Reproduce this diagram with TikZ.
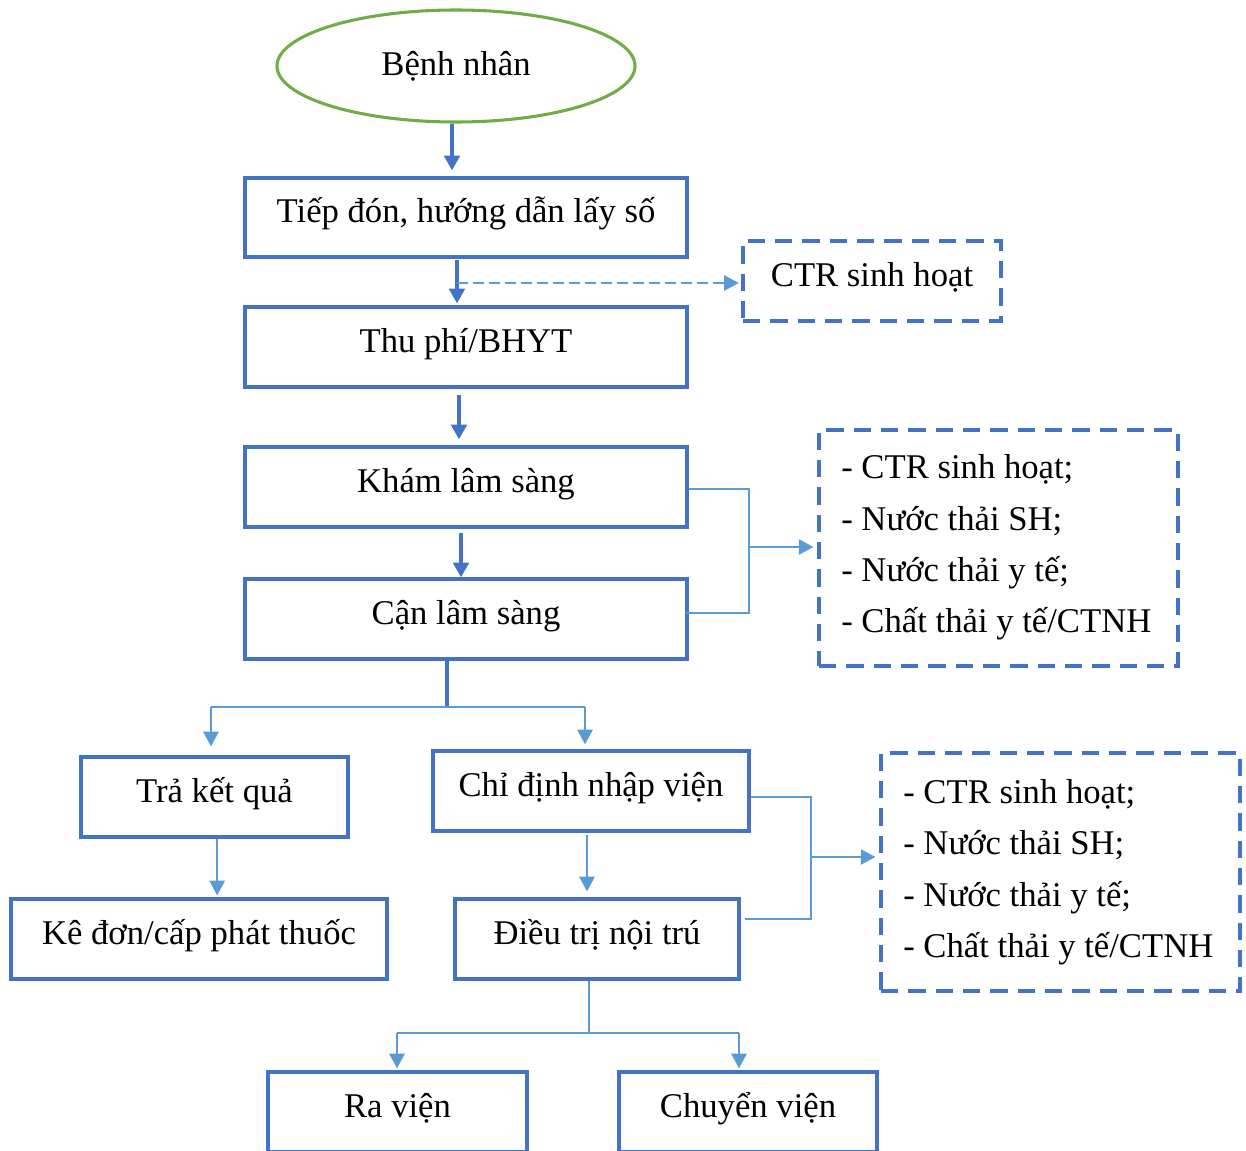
\documentclass[tikz,border=0pt]{standalone}
\usepackage{fontspec}
\setmainfont{Liberation Serif}
\usetikzlibrary{arrows.meta,shapes.geometric}
\definecolor{boxblue}{HTML}{4472C4}
\definecolor{linkblue}{HTML}{5B9BD5}
\definecolor{ovalgreen}{HTML}{70AD47}

\begin{document}
\begin{tikzpicture}[x=0.75pt,y=-0.75pt,
  txt/.style={font=\fontsize{26}{38.6}\selectfont},
  wh/.style 2 args={minimum width=#1*0.75pt, minimum height=#2*0.75pt},
  stepbox/.style={txt, draw=boxblue, line width=2.4pt, rectangle, inner sep=0pt,
    text height=0.86em, text depth=0.08em},
  wasteframe/.style={draw=boxblue, line width=2.3pt, dash pattern=on 13pt off 7.5pt,
    rectangle, inner sep=0pt},
  wastetext/.style={txt, inner sep=0pt, align=left, anchor=west},
  mainarrow/.style={draw=boxblue, line width=3.3pt,
    -{Triangle[width=11.5pt,length=11pt]}},
  mainline/.style={draw=boxblue, line width=3.3pt},
  link/.style={draw=linkblue, line width=1.1pt},
  linkarrow/.style={link, -{Triangle[width=11.5pt,length=11pt]}},
  dashlink/.style={draw=linkblue, line width=1pt, dash pattern=on 8pt off 4pt,
    -{Triangle[width=11.5pt,length=11pt]}}
]
\useasboundingbox (0,0) rectangle (1246,1150);
\clip (0,0) rectangle (1246,1150);

% start oval
\node[ellipse, draw=ovalgreen, line width=2.3pt, wh={358}{112}, inner sep=0pt, txt]
  (patient) at (456,66) {Bệnh nhân};

% main column
\node[stepbox, wh={442}{79}] (reception) at (466,217.5) {Tiếp đón, hướng dẫn lấy số};
\node[stepbox, wh={442}{80}] (fee) at (466,347) {Thu phí/BHYT};
\node[stepbox, wh={442}{80}] (exam) at (466,487) {Khám lâm sàng};
\node[stepbox, wh={442}{80}] (lab) at (466,619) {Cận lâm sàng};

% waste outputs
\node[stepbox, wh={258}{80}, dash pattern=on 13pt off 7.5pt, line width=2.3pt]
  (waste0) at (872,281) {CTR sinh hoạt};
\node[wasteframe, wh={359}{236}] (waste1) at (998.5,548) {};
\node[wastetext] (waste1text) at (841,547.5)
  {- CTR sinh hoạt;\\- Nước thải SH;\\- Nước thải y tế;\\- Chất thải y tế/CTNH};
\node[wasteframe, wh={359}{238}] (waste2) at (1060.5,872) {};
\node[wastetext] (waste2text) at (903,872)
  {- CTR sinh hoạt;\\- Nước thải SH;\\- Nước thải y tế;\\- Chất thải y tế/CTNH};

% branches
\node[stepbox, wh={267}{80}] (result) at (214.5,797) {Trả kết quả};
\node[stepbox, wh={316}{80}] (admit) at (591,791) {Chỉ định nhập viện};
\node[stepbox, wh={376}{80}] (drugs) at (199,939) {Kê đơn/cấp phát thuốc};
\node[stepbox, wh={284}{80}] (inpatient) at (597,939) {Điều trị nội trú};
\node[stepbox, wh={259}{80}] (discharge) at (397.5,1112) {Ra viện};
\node[stepbox, wh={258}{80}] (transfer) at (748,1112) {Chuyển viện};

% junction points
\coordinate (j0) at (457,283);
\coordinate (j1) at (749,489);
\coordinate (j1b) at (749,613);
\coordinate (j1m) at (749,547);
\coordinate (j2) at (447,707);
\coordinate (j3) at (811,797);
\coordinate (j3b) at (811,919);
\coordinate (j3m) at (811,857);
\coordinate (j4) at (589,1033);

% main flow arrows
\draw[mainarrow, shorten >=4.5pt] ([xshift=-3pt]patient.south) -- ([xshift=-3pt]patient.south |- reception.north);
\draw[mainarrow, shorten <=1pt, shorten >=1.5pt] ([xshift=-6.75pt]reception.south) -- ([xshift=-6.75pt]fee.north);
\draw[dashlink, shorten >=2pt] (j0) -- (j0 -| waste0.west);
\draw[mainarrow, shorten <=4.5pt, shorten >=4.5pt] ([xshift=-5.25pt]fee.south) -- ([xshift=-5.25pt]exam.north);
\draw[mainarrow, shorten <=3.5pt] ([xshift=-3.75pt]exam.south) -- ([xshift=-3.75pt]lab.north);

% bracket to first waste box
\draw[link] (j1 -| exam.east) -- (j1) -- (j1b) -- ([xshift=-2.25pt]j1b -| lab.east);
\draw[linkarrow, shorten >=3pt] (j1m) -- (j1m -| waste1.west);

% split after lab tests
\draw[mainline] (lab.south -| j2) -- (j2);
\draw[link] (211,707) coordinate (s1) -- (585,707) coordinate (s2);
\draw[linkarrow, shorten >=6.75pt] (s1) -- (s1 |- result.north);
\draw[linkarrow, shorten >=3.75pt] (s2) -- (s2 |- admit.north);

% lower column
\draw[linkarrow, shorten >=1.5pt] ([xshift=2pt]result.south) -- ([xshift=2pt]result.south |- drugs.north);
\draw[linkarrow, shorten <=1.5pt, shorten >=4.5pt] ([xshift=-3pt]admit.south) -- ([xshift=-3pt]admit.south |- inpatient.north);

% bracket to second waste box
\draw[link] (j3 -| admit.east) -- (j3) -- (j3b) -- ([xshift=3pt]j3b -| inpatient.east);
\draw[linkarrow, shorten >=3pt] (j3m) -- (j3m -| waste2.west);

% split after inpatient care
\draw[link] (inpatient.south -| j4) -- (j4);
\draw[link] (397,1033) coordinate (s3) -- (739,1033) coordinate (s4);
\draw[linkarrow, shorten >=1.5pt] (s3) -- (s3 |- discharge.north);
\draw[linkarrow, shorten >=1.5pt] (s4) -- (s4 |- transfer.north);
\end{tikzpicture}
\end{document}
